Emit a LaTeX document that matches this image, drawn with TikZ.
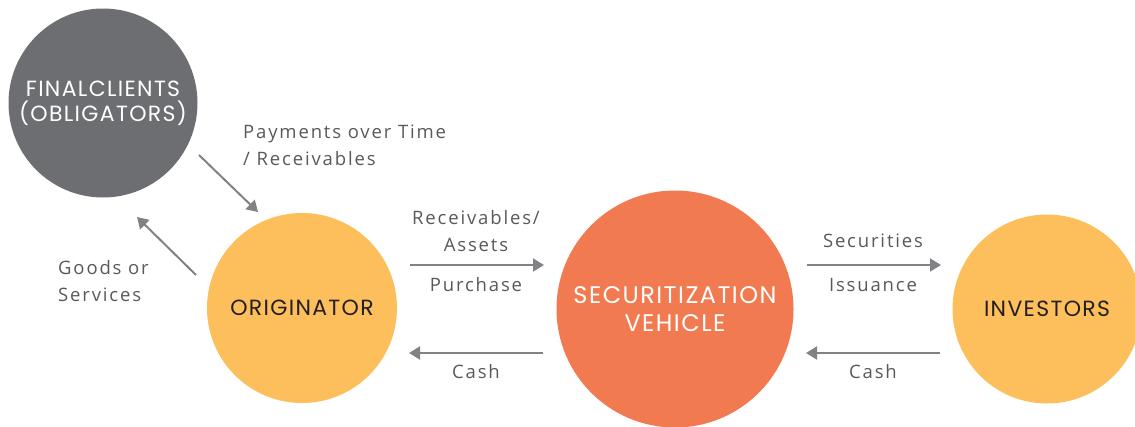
\documentclass[tikz,border=0pt]{standalone}
\usepackage{fontspec}
\setmainfont[LetterSpace=10]{Open Sans}
\newfontfamily\headfont[LetterSpace=6]{Poppins}
\usetikzlibrary{arrows.meta}
\definecolor{clientgrey}{HTML}{6D6E71}
\definecolor{sunny}{HTML}{FDBF5B}
\definecolor{coral}{HTML}{F27A50}
\definecolor{arrowgrey}{HTML}{808285}
\definecolor{labelgrey}{HTML}{58595B}
\definecolor{inkdark}{HTML}{231F20}
\tikzset{
  party/.style={circle, inner sep=0pt, align=center, font=\headfont\fontsize{22}{25}\selectfont},
  flow/.style={draw=arrowgrey, line width=2pt, -{Triangle[length=11pt,width=13pt]}},
  flowlabel/.style={text=labelgrey, font=\fontsize{18.5}{27}\selectfont, inner sep=0pt},
}
\begin{document}
\begin{tikzpicture}[x=1pt, y=-1pt]
  \useasboundingbox (0,0) rectangle (1135,426);

  % the four parties
  \node[party, fill=clientgrey, text=white, minimum size=189pt] (clients) at (103,103)
    {FINALCLIENTS\\(OBLIGATORS)};
  \node[party, fill=sunny, text=inkdark, minimum size=190pt] (originator) at (302,308)
    {ORIGINATOR};
  \node[party, fill=coral, text=white, minimum size=237pt,
        font=\headfont\fontsize{24}{28}\selectfont] (vehicle) at (675,309)
    {\raisebox{-3pt}{\parbox{230pt}{\centering SECURITIZATION\\VEHICLE}}};
  \node[party, fill=sunny, text=inkdark, minimum size=189pt] (investors) at (1047,309)
    {INVESTORS};

  % arrow end points
  \coordinate (payA) at (199,155);
  \coordinate (payB) at (258,212);
  \coordinate (goodsA) at (196,275);
  \coordinate (goodsB) at (137,217);
  \coordinate (recA) at (410,265);
  \coordinate (recB) at (544,265);
  \coordinate (cashLA) at (543,353);
  \coordinate (cashLB) at (409,353);
  \coordinate (secA) at (807,265);
  \coordinate (secB) at (941,265);
  \coordinate (cashRA) at (940,353);
  \coordinate (cashRB) at (806,353);

  \draw[flow] (payA) -- (payB);
  \draw[flow] (goodsA) -- (goodsB);
  \draw[flow] (recA) -- (recB);
  \draw[flow] (cashLA) -- (cashLB);
  \draw[flow] (secA) -- (secB);
  \draw[flow] (cashRA) -- (cashRB);

  % flow labels
  \node[flowlabel, anchor=west, align=left] (paytext) at (243,145)
    {Payments over Time\\/ Receivables};
  \node[flowlabel, anchor=west, align=left] (goodstext) at (58,281)
    {Goods or\\Services};
  \node[flowlabel, align=center] (rectext) at (476,231) {Receivables/\\Assets};
  \node[flowlabel] (purchtext) at (476,285) {Purchase};
  \node[flowlabel] (cashLtext) at (476,372) {Cash};
  \node[flowlabel] (sectext) at (873,241) {Securities};
  \node[flowlabel] (isstext) at (873,285) {Issuance};
  \node[flowlabel] (cashRtext) at (873,372) {Cash};
\end{tikzpicture}
\end{document}
